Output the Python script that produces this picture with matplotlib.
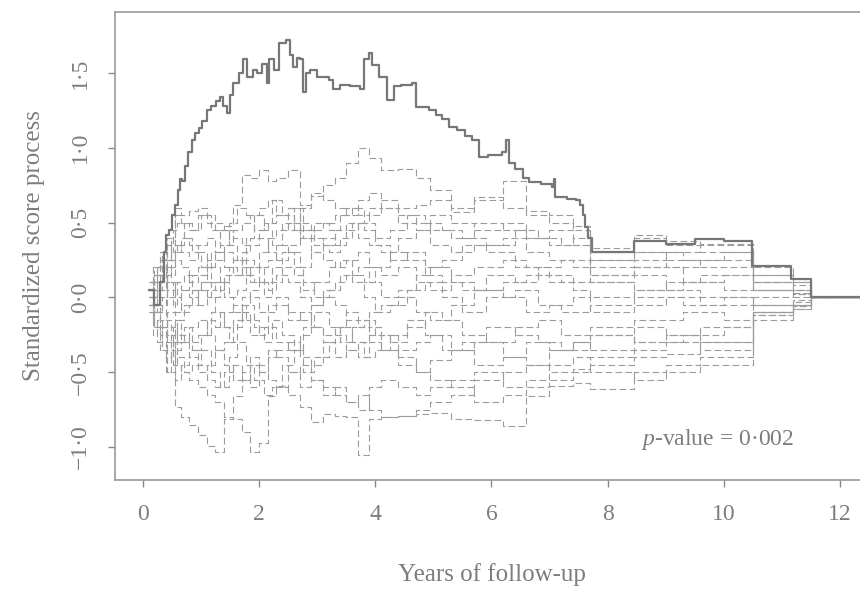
import numpy as np
import matplotlib
matplotlib.use("Agg")
from matplotlib import pyplot as plt

plt.rcParams['font.family'] = ['Liberation Serif', 'DejaVu Serif']
plt.rcParams['mathtext.fontset'] = 'custom'
plt.rcParams['mathtext.it'] = 'Liberation Serif:italic'
plt.rcParams['mathtext.rm'] = 'Liberation Serif'

## observed standardized score process (solid line)
obs_t = [0.10, 0.20, 0.30, 0.36, 0.40, 0.45, 0.50, 0.55, 0.60, 0.64,
         0.68, 0.72, 0.78, 0.84, 0.90, 0.96, 1.02, 1.10, 1.18, 1.26,
         1.32, 1.38, 1.44, 1.50, 1.55, 1.65, 1.72, 1.80, 1.90, 1.96,
         2.05, 2.13, 2.18, 2.25, 2.35, 2.47, 2.53, 2.58, 2.65, 2.70,
         2.75, 2.80, 2.87, 2.99, 3.10, 3.21, 3.27, 3.40, 3.56, 3.73,
         3.80, 3.90, 3.95, 4.07, 4.21, 4.33, 4.45, 4.64, 4.70, 4.93,
         5.05, 5.15, 5.27, 5.40, 5.55, 5.67, 5.79, 5.95, 6.19, 6.25,
         6.30, 6.40, 6.55, 6.65, 6.85, 7.04, 7.08, 7.10, 7.30, 7.46,
         7.52, 7.57, 7.62, 7.67, 7.73, 8.45, 9.00, 9.50, 10.00, 10.48,
         11.15, 11.50, 12.50]
obs_y = [0.05, -0.05, 0.10, 0.30, 0.42, 0.45, 0.55, 0.62, 0.72, 0.79,
         0.78, 0.88, 0.97, 1.05, 1.10, 1.13, 1.18, 1.25, 1.28, 1.31,
         1.34, 1.28, 1.23, 1.35, 1.43, 1.50, 1.59, 1.47, 1.52, 1.50,
         1.56, 1.43, 1.59, 1.52, 1.70, 1.72, 1.62, 1.54, 1.60, 1.59,
         1.37, 1.50, 1.52, 1.47, 1.47, 1.45, 1.39, 1.42, 1.41, 1.39,
         1.59, 1.63, 1.55, 1.47, 1.32, 1.41, 1.42, 1.43, 1.27, 1.25,
         1.22, 1.19, 1.14, 1.12, 1.08, 1.05, 0.94, 0.95, 0.97, 1.05,
         0.90, 0.86, 0.80, 0.77, 0.76, 0.74, 0.79, 0.67, 0.66, 0.65,
         0.62, 0.55, 0.47, 0.40, 0.30, 0.38, 0.36, 0.39, 0.38, 0.21,
         0.12, 0.00, 0.00]

## simulated realizations under the model (dashed lines), first set of jump times
sim_t = [0.10, 0.20, 0.30, 0.42, 0.55, 0.65, 0.80, 0.95, 1.10, 1.25,
         1.40, 1.55, 1.70, 1.85, 2.00, 2.15, 2.30, 2.50, 2.70, 2.90,
         3.10, 3.30, 3.50, 3.70, 3.90, 4.10, 4.40, 4.70, 4.95, 5.30,
         5.70, 6.20, 6.60, 7.00, 7.40, 7.70, 8.45, 9.00, 9.60, 10.50,
         11.20, 11.50, 12.50]

sim_a = [0.05, 0.15, 0.25, 0.35, 0.55, 0.50, 0.45, 0.55, 0.50, 0.45,
         0.48, 0.62, 0.82, 0.80, 0.85, 0.78, 0.80, 0.85, 0.62, 0.68,
         0.75, 0.80, 0.90, 1.00, 0.93, 0.85, 0.86, 0.80, 0.72, 0.60,
         0.65, 0.78, 0.58, 0.55, 0.48, 0.33, 0.40, 0.38, 0.36, 0.20,
         0.12, 0.00, 0.00]
sim_b = [-0.05, -0.20, -0.35, -0.50, -0.73, -0.80, -0.85, -0.92, -0.99, -1.03,
         -0.81, -0.66, -0.55, -0.45, -0.50, -0.40, -0.35, -0.30, -0.40, -0.45,
         -0.30, -0.25, -0.35, -0.40, -0.30, -0.35, -0.45, -0.50, -0.42, -0.35,
         -0.30, -0.40, -0.45, -0.35, -0.30, -0.25, -0.30, -0.25, -0.20, -0.10,
         -0.05, 0.00, 0.00]
sim_c = [0.00, -0.10, -0.20, -0.30, -0.45, -0.50, -0.55, -0.60, -0.65, -0.70,
         -0.80, -0.81, -0.90, -1.03, -0.97, -0.66, -0.59, -0.65, -0.73, -0.83,
         -0.78, -0.79, -0.80, -1.05, -0.81, -0.80, -0.79, -0.78, -0.77, -0.81,
         -0.82, -0.86, -0.66, -0.59, -0.57, -0.61, -0.50, -0.45, -0.40, -0.15,
         -0.08, 0.00, 0.00]
sim_d = [-0.10, -0.20, -0.25, -0.35, -0.55, -0.45, -0.35, -0.45, -0.55, -0.60,
         -0.50, -0.45, -0.55, -0.60, -0.45, -0.35, -0.40, -0.50, -0.60, -0.55,
         -0.60, -0.65, -0.70, -0.75, -0.60, -0.55, -0.60, -0.65, -0.60, -0.55,
         -0.50, -0.60, -0.55, -0.45, -0.40, -0.45, -0.40, -0.38, -0.30, -0.12,
         -0.06, 0.00, 0.00]
sim_e = [0.10, 0.20, 0.30, 0.40, 0.60, 0.55, 0.58, 0.60, 0.55, 0.50,
         0.45, 0.40, 0.35, 0.40, 0.45, 0.50, 0.55, 0.60, 0.50, 0.45,
         0.50, 0.55, 0.60, 0.55, 0.60, 0.65, 0.60, 0.62, 0.65, 0.57,
         0.67, 0.60, 0.55, 0.50, 0.45, 0.30, 0.42, 0.35, 0.30, 0.15,
         0.10, 0.00, 0.00]
sim_f = [0.05, 0.10, 0.00, 0.15, 0.25, 0.20, 0.10, 0.15, 0.25, 0.30,
         0.20, 0.15, 0.30, 0.35, 0.40, 0.30, 0.25, 0.35, 0.45, 0.40,
         0.35, 0.45, 0.50, 0.40, 0.35, 0.30, 0.40, 0.45, 0.35, 0.30,
         0.35, 0.40, 0.30, 0.25, 0.20, 0.25, 0.30, 0.20, 0.25, 0.10,
         0.05, 0.00, 0.00]
sim_g = [-0.05, -0.10, -0.20, -0.10, -0.25, -0.30, -0.20, -0.15, -0.25, -0.35,
         -0.30, -0.20, -0.10, -0.15, -0.25, -0.20, -0.30, -0.35, -0.25, -0.20,
         -0.30, -0.40, -0.35, -0.30, -0.20, -0.25, -0.35, -0.30, -0.25, -0.35,
         -0.45, -0.40, -0.30, -0.35, -0.30, -0.35, -0.20, -0.25, -0.30, -0.10,
         -0.05, 0.00, 0.00]
sim_h = [0.00, 0.05, 0.15, 0.05, 0.10, 0.05, 0.15, 0.20, 0.10, 0.05,
         0.15, 0.25, 0.20, 0.10, 0.20, 0.25, 0.35, 0.30, 0.20, 0.30,
         0.40, 0.35, 0.45, 0.50, 0.55, 0.60, 0.50, 0.45, 0.55, 0.50,
         0.45, 0.50, 0.40, 0.35, 0.40, 0.20, 0.25, 0.30, 0.35, 0.05,
         0.02, 0.00, 0.00]
sim_i = [-0.10, -0.05, -0.15, -0.25, -0.35, -0.30, -0.40, -0.50, -0.45, -0.35,
         -0.45, -0.55, -0.50, -0.40, -0.50, -0.55, -0.60, -0.50, -0.45, -0.55,
         -0.65, -0.60, -0.70, -0.65, -0.75, -0.80, -0.79, -0.75, -0.70, -0.65,
         -0.55, -0.50, -0.45, -0.50, -0.48, -0.50, -0.55, -0.50, -0.45, -0.10,
         -0.05, 0.00, 0.00]
sim_j = [0.00, -0.05, 0.05, 0.00, -0.10, 0.05, 0.00, -0.05, 0.05, 0.10,
         0.00, -0.10, 0.00, 0.05, 0.10, 0.05, 0.15, 0.10, 0.00, -0.05,
         0.05, 0.10, 0.15, 0.20, 0.10, 0.00, 0.05, 0.15, 0.20, 0.10,
         0.05, 0.10, 0.15, 0.10, 0.05, 0.00, 0.05, 0.10, 0.15, 0.05,
         0.03, 0.00, 0.00]
sim_k = [0.05, 0.10, 0.20, 0.25, 0.35, 0.30, 0.25, 0.35, 0.40, 0.30,
         0.35, 0.45, 0.50, 0.55, 0.60, 0.65, 0.55, 0.45, 0.60, 0.70,
         0.65, 0.60, 0.55, 0.65, 0.70, 0.60, 0.55, 0.50, 0.45, 0.40,
         0.50, 0.45, 0.40, 0.45, 0.35, 0.15, 0.20, 0.25, 0.20, 0.10,
         0.05, 0.00, 0.00]
sim_l = [-0.05, 0.00, -0.10, -0.20, -0.15, -0.25, -0.30, -0.25, -0.15, -0.20,
         -0.10, -0.05, -0.15, -0.25, -0.20, -0.10, -0.05, -0.15, -0.10, -0.20,
         -0.25, -0.20, -0.10, -0.15, -0.25, -0.35, -0.40, -0.50, -0.55, -0.60,
         -0.70, -0.65, -0.60, -0.55, -0.50, -0.40, -0.35, -0.30, -0.35, -0.12,
         -0.06, 0.00, 0.00]
sim_m = [0.10, 0.05, -0.05, 0.10, 0.00, -0.10, -0.05, 0.05, 0.00, -0.10,
         -0.20, -0.15, -0.05, 0.00, -0.10, -0.05, 0.00, -0.10, -0.15, -0.05,
         0.00, -0.05, -0.15, -0.20, -0.10, -0.05, 0.00, -0.10, -0.15, -0.05,
         0.05, 0.00, -0.10, -0.05, 0.00, -0.10, -0.05, 0.00, -0.05, 0.00,
         0.02, 0.00, 0.00]
sim_n = [-0.05, 0.05, 0.10, 0.20, 0.30, 0.40, 0.35, 0.30, 0.20, 0.25,
         0.30, 0.25, 0.15, 0.20, 0.30, 0.40, 0.45, 0.50, 0.40, 0.30,
         0.25, 0.20, 0.25, 0.30, 0.20, 0.15, 0.20, 0.10, 0.05, 0.15,
         0.20, 0.25, 0.20, 0.15, 0.10, 0.10, 0.15, 0.05, 0.00, -0.05,
         0.00, 0.00, 0.00]

## second set of jump times (denser early on)
sim2_t = [0.12, 0.18, 0.25, 0.33, 0.40, 0.48, 0.52, 0.58, 0.70, 0.85,
          1.00, 1.18, 1.32, 1.48, 1.62, 1.78, 1.92, 2.08, 2.22, 2.40,
          2.60, 2.75, 2.95, 3.20, 3.40, 3.60, 3.80, 4.00, 4.25, 4.55,
          4.85, 5.15, 5.50, 5.90, 6.40, 6.80, 7.20, 7.70, 8.45, 9.30,
          10.00, 10.50, 11.20, 11.50, 12.50]

sim_o = [0.00, -0.15, -0.30, -0.20, -0.40, -0.25, -0.45, -0.30, -0.20, -0.35,
         -0.25, -0.10, -0.20, -0.30, -0.15, -0.05, -0.20, -0.30, -0.15, -0.25,
         -0.35, -0.20, -0.10, -0.20, -0.30, -0.20, -0.15, -0.25, -0.30, -0.20,
         -0.10, -0.15, -0.25, -0.30, -0.20, -0.15, -0.25, -0.20, -0.15, -0.10,
         -0.15, -0.05, -0.03, 0.00, 0.00]
sim_p = [0.05, 0.20, 0.10, 0.25, 0.15, 0.35, 0.45, 0.50, 0.40, 0.30,
         0.20, 0.30, 0.45, 0.35, 0.25, 0.40, 0.55, 0.45, 0.35, 0.50,
         0.60, 0.45, 0.35, 0.30, 0.40, 0.50, 0.45, 0.35, 0.25, 0.30,
         0.20, 0.25, 0.35, 0.30, 0.20, 0.15, 0.10, 0.15, 0.20, 0.10,
         0.05, 0.10, 0.08, 0.00, 0.00]
sim_q = [-0.05, 0.05, -0.10, 0.00, -0.15, -0.30, -0.20, -0.40, -0.50, -0.45,
         -0.35, -0.50, -0.60, -0.40, -0.30, -0.45, -0.55, -0.65, -0.60, -0.45,
         -0.35, -0.50, -0.40, -0.30, -0.20, -0.30, -0.40, -0.35, -0.25, -0.15,
         -0.25, -0.35, -0.30, -0.20, -0.25, -0.30, -0.35, -0.25, -0.30, -0.25,
         -0.20, -0.10, -0.08, 0.00, 0.00]
sim_r = [0.10, 0.00, 0.15, 0.05, 0.20, 0.10, -0.05, 0.10, 0.15, 0.05,
         0.10, 0.20, 0.10, 0.00, 0.05, 0.15, 0.10, 0.00, 0.10, 0.20,
         0.15, 0.05, 0.10, 0.20, 0.25, 0.15, 0.10, 0.20, 0.30, 0.25,
         0.15, 0.10, 0.05, 0.15, 0.10, 0.20, 0.25, 0.10, 0.05, 0.10,
         0.15, 0.05, 0.05, 0.00, 0.00]
sim_s = [-0.10, -0.25, -0.15, -0.35, -0.50, -0.40, -0.30, -0.15, -0.05, 0.05,
         0.10, 0.00, 0.10, 0.20, 0.15, 0.25, 0.20, 0.10, 0.20, 0.30,
         0.20, 0.10, 0.00, 0.05, 0.15, 0.10, 0.00, -0.10, -0.05, 0.05,
         0.10, 0.00, -0.10, 0.00, 0.05, -0.05, -0.10, -0.05, 0.00, -0.05,
         0.00, -0.05, -0.02, 0.00, 0.00]
sim_u = [0.05, 0.10, 0.20, 0.30, 0.25, 0.40, 0.30, 0.35, 0.50, 0.45,
         0.55, 0.45, 0.35, 0.50, 0.60, 0.55, 0.45, 0.50, 0.65, 0.55,
         0.45, 0.40, 0.50, 0.45, 0.55, 0.60, 0.50, 0.40, 0.45, 0.55,
         0.50, 0.45, 0.40, 0.35, 0.45, 0.40, 0.35, 0.25, 0.30, 0.25,
         0.30, 0.15, 0.10, 0.00, 0.00]

x_ticks = [0, 2, 4, 6, 8, 10, 12]
y_ticks = [-1.0, -0.5, 0.0, 0.5, 1.0, 1.5]
y_ticklabels = ['\u22121\u00b70', '\u22120\u00b75', '0\u00b70', '0\u00b75', '1\u00b70', '1\u00b75']

sims1 = [sim_a, sim_b, sim_c, sim_d, sim_e, sim_f, sim_g,
         sim_h, sim_i, sim_j, sim_k, sim_l, sim_m, sim_n]
sims2 = [sim_o, sim_p, sim_q, sim_r, sim_s, sim_u]

grey = '#8a8a8a'
txt = '#7d7d7d'
fig = plt.figure(figsize=(8.6, 5.93), dpi=100)
ax = fig.add_axes([0.1337, 0.1906, 0.8767, 0.7892])

for s in sims1:
    ax.plot(sim_t, s, drawstyle='steps-post', color='#9c9c9c', lw=0.8,
            linestyle=(0, (6, 3)))
for s in sims2:
    ax.plot(sim2_t, s, drawstyle='steps-post', color='#9c9c9c', lw=0.8,
            linestyle=(0, (6, 3)))
ax.plot(obs_t, obs_y, drawstyle='steps-post', color='#777777', lw=1.6)

ax.set_xlim(-0.48, 12.5)
ax.set_ylim(-1.22, 1.907)
ax.set_xticks(x_ticks)
ax.set_yticks(y_ticks)
ax.set_yticklabels(y_ticklabels, rotation=90, va='center')
ax.tick_params(direction='out', length=5, width=1, color=grey,
               labelcolor=txt, labelsize=17, pad=12)
for sp in ax.spines.values():
    sp.set_color('#999999')
    sp.set_linewidth(1.2)

ax.set_xlabel('Years of follow-up', fontsize=18, color=txt, labelpad=28)
ax.set_ylabel('Standardized score process', fontsize=18, color=txt, labelpad=18)
ax.text(8.58, -0.95, '$\\it{p}$-value = 0\u00b7002', fontsize=17, color=txt,
        va='center', ha='left')

fig.savefig('out.png', dpi=100)
